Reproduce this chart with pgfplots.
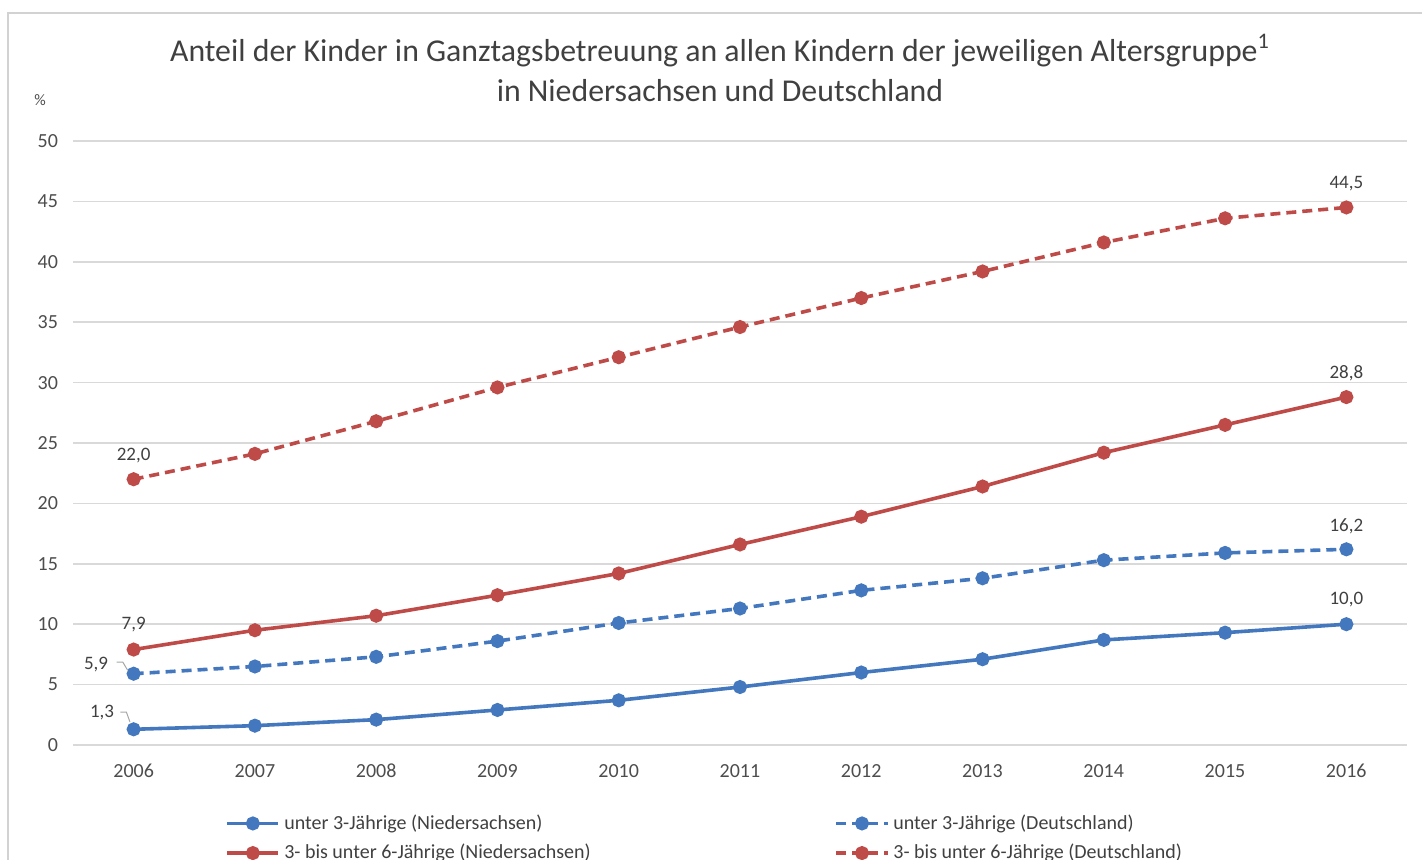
\documentclass[border=0pt]{standalone}
\usepackage{fontspec}
\setmainfont{Carlito}
\usepackage{pgfplots}
\pgfplotsset{compat=1.18}

\definecolor{blueline}{HTML}{4377BE}
\definecolor{redline}{HTML}{BE4B48}
\definecolor{gridgray}{HTML}{D9D9D9}
\definecolor{txtgray}{HTML}{4D4D4D}
\definecolor{titlegray}{HTML}{404040}

\begin{document}
\begin{tikzpicture}[x=1pt,y=1pt]
\path[use as bounding box] (-36.5,-57.5) rectangle (674.5,372.5);
% Rahmen
\draw[gray!35,line width=1pt] (-32.5,-60) -- (-32.5,366) -- (680,366);

\begin{axis}[
  at={(0,0)}, anchor=south west,
  scale only axis,
  width=667pt, height=302pt,
  xmin=2005.5, xmax=2016.5,
  ymin=0, ymax=50,
  xtick={2006,2007,...,2016},
  ytick={0,5,...,50},
  ymajorgrids,
  grid style={gridgray, line width=0.8pt},
  axis line style={draw=none},
  major tick length=0pt,
  /pgf/number format/1000 sep={},
  /pgf/number format/assume math mode=true,
  tick label style={font=\fontsize{10}{12}\selectfont, text=txtgray},
  yticklabel style={xshift=-4pt},
  xticklabel style={yshift=-6pt},
  legend columns=2,
  legend cell align=left,
  legend style={at={(0.114,-0.108)}, anchor=north west, draw=none, fill=none,
    font=\fontsize{10}{12}\selectfont, text=titlegray, inner sep=0pt,
    row sep=2pt,
    /tikz/every even column/.append style={column sep=120pt}},
  legend image code/.code={
    \draw[mark repeat=2,mark phase=2] plot coordinates {(0cm,0cm) (0.45cm,0cm) (0.9cm,0cm)};},
  every axis plot/.append style={line width=1.8pt, mark=*, mark size=2.6pt},
]

% unter 3-Jährige (Niedersachsen)
\addplot[blueline, mark options={solid}] coordinates {
(2006,1.3) (2007,1.6) (2008,2.1) (2009,2.9) (2010,3.7) (2011,4.8)
(2012,6.0) (2013,7.1) (2014,8.7) (2015,9.3) (2016,10.0)};
\addlegendentry{unter 3-Jährige (Niedersachsen)}

% unter 3-Jährige (Deutschland)
\addplot[blueline, dash pattern=on 5pt off 3pt, mark options={solid}] coordinates {
(2006,5.9) (2007,6.5) (2008,7.3) (2009,8.6) (2010,10.1) (2011,11.3)
(2012,12.8) (2013,13.8) (2014,15.3) (2015,15.9) (2016,16.2)};
\addlegendentry{unter 3-Jährige (Deutschland)}

% 3- bis unter 6-Jährige (Niedersachsen)
\addplot[redline, mark options={solid}] coordinates {
(2006,7.9) (2007,9.5) (2008,10.7) (2009,12.4) (2010,14.2) (2011,16.6)
(2012,18.9) (2013,21.4) (2014,24.2) (2015,26.5) (2016,28.8)};
\addlegendentry{3- bis unter 6-Jährige (Niedersachsen)}

% 3- bis unter 6-Jährige (Deutschland)
\addplot[redline, dash pattern=on 5pt off 3pt, mark options={solid}] coordinates {
(2006,22.0) (2007,24.1) (2008,26.8) (2009,29.6) (2010,32.1) (2011,34.6)
(2012,37.0) (2013,39.2) (2014,41.6) (2015,43.6) (2016,44.5)};
\addlegendentry{3- bis unter 6-Jährige (Deutschland)}

% Datenbeschriftungen
\begin{scope}[every node/.style={font=\fontsize{9.5}{11}\selectfont, text=titlegray}]
\node at (axis cs:2006,24.0) {22,0};
\node at (axis cs:2006,10.0) {7,9};
\node at (axis cs:2005.69,6.7) {5,9};
\node at (axis cs:2005.74,2.65) {1,3};
\node at (axis cs:2016,46.5) {44,5};
\node at (axis cs:2016,30.8) {28,8};
\node at (axis cs:2016,18.1) {16,2};
\node at (axis cs:2016,12.0) {10,0};
\end{scope}
\draw[gray!70, line width=0.5pt] (axis cs:2005.86,6.87) -- (axis cs:2005.91,6.87) -- (axis cs:2005.95,6.2);
\draw[gray!70, line width=0.5pt] (axis cs:2005.89,2.73) -- (axis cs:2005.94,2.73) -- (axis cs:2005.97,1.9);
\end{axis}

% Titel
\node[align=center, text=titlegray, font=\fontsize{15.9}{20}\selectfont] at (323.5,338.5)
  {Anteil der Kinder in Ganztagsbetreuung an allen Kindern der jeweiligen Altersgruppe\textsuperscript{1}\\ in Niedersachsen und Deutschland};
\node[text=txtgray, font=\fontsize{8}{9}\selectfont] at (-16.5,322.5) {\%};
\end{tikzpicture}
\end{document}
